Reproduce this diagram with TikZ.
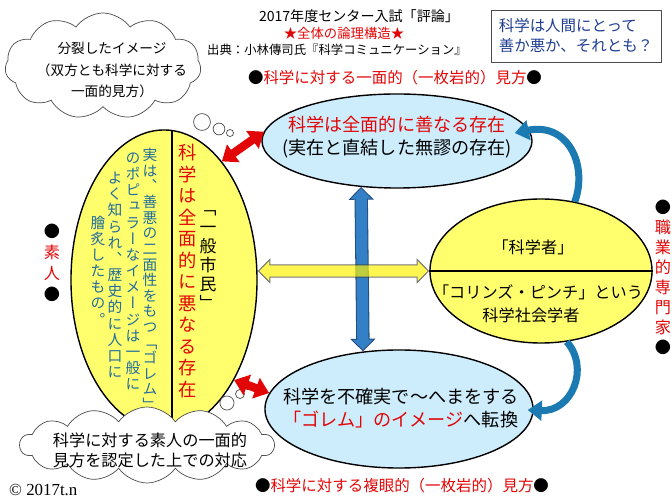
\documentclass[tikz,border=0pt]{standalone}
\usepackage{fontspec}
\setmainfont{Noto Sans CJK JP}
\newfontfamily\tatefont[RawFeature=+vert]{Noto Sans CJK JP}
\newfontfamily\copyfont{Liberation Serif}
\usepackage{tikz}
\usetikzlibrary{arrows.meta,shapes.geometric,shapes.symbols,calc}

\definecolor{akared}{RGB}{226,6,6}
\definecolor{eggyellow}{RGB}{255,255,110}
\definecolor{pondblue}{RGB}{205,237,252}
\definecolor{inkblue}{RGB}{32,108,156}
\definecolor{qblue}{RGB}{32,62,145}
\definecolor{bluebody}{RGB}{52,128,198}
\definecolor{blueedge}{RGB}{36,78,128}
\definecolor{swooshblue}{RGB}{28,122,178}

% one character per line, top to bottom
\newcommand\tate[1]{\vbox{\tateloop#1\relax}}
\def\tateloop#1{\ifx\relax#1\else\hbox to 1em{\hss\vrule height .88em depth .12em width 0pt\relax#1\hss}\expandafter\tateloop\fi}

\begin{document}
\begin{tikzpicture}[x=0.025cm, y=-0.025cm, thick,
  egg/.style={ellipse, draw=black, line width=1pt, fill=eggyellow, inner sep=0pt},
  pond/.style={ellipse, draw=black, line width=1pt, fill=pondblue, inner sep=0pt},
  puff/.style={cloud, cloud puffs=#1, cloud puff arc=110, cloud ignores aspect, draw=black!70, line width=0.5pt, fill=white, inner sep=0pt},
  bubble/.style={draw=black!70, line width=0.5pt, fill=white},
  tatecol/.style={inner sep=0pt, text=inkblue, font=\tatefont\fontsize{10.5}{11.5}\selectfont},
  redlink/.style={draw=akared, line width=6pt, {Triangle[length=10pt,width=15pt]}-{Triangle[length=10pt,width=15pt]}},
  barrim/.style={draw=#1, line width=9.5pt, {Triangle[length=9pt,width=17.5pt]}-{Triangle[length=9pt,width=17.5pt]}},
  barcore/.style={draw=#1, line width=8pt, shorten <=1.1pt, shorten >=1.1pt, {Triangle[length=7.2pt,width=14pt]}-{Triangle[length=7.2pt,width=14pt]}},
  swoosh/.style={draw=swooshblue, line width=5pt, -{Triangle[length=10pt,width=14pt]}}]

  \useasboundingbox (0,0) rectangle (672,504);

  % heading
  \node[font=\fontsize{10}{12}\selectfont] (title) at (359,16) {2017年度センター入試「評論」};
  \node[text=akared, font=\fontsize{9.5}{11}\selectfont] (star) at (344,33) {★全体の論理構造★};
  \node[font=\fontsize{8.8}{10}\selectfont] (src) at (337,50) {出典：小林傳司氏『科学コミュニケーション』};
  \node[draw=black!70, line width=0.6pt, align=left, text=qblue, font=\fontsize{11}{14.2}\selectfont,
        minimum width=4.25cm, minimum height=1.3cm] (ask) at (576,36) {科学は人間にとって\\善か悪か、それとも？};

  % thought cloud, top left
  \node[puff=11, minimum width=4.9cm, minimum height=2.65cm] (cloudtop) at (103,66) {};
  \node[align=center, font=\fontsize{9.7}{15.6}\selectfont] (split) at (112,70) {分裂したイメージ\\（双方とも科学に対する\\一面的見方）};
  \draw[bubble] (202,122) circle[radius=6pt];
  \draw[bubble] (219,129) circle[radius=4.2pt];
  \draw[bubble] (230,133) circle[radius=2.5pt];

  % the public
  \node[egg, minimum width=4.65cm, minimum height=7.5cm] (le) at (164,280) {};
  \draw[line width=1pt] (le.87) -- (le.273);
  \node[tatecol, font=\tatefont\fontsize{10.5}{11.1}\selectfont] (col1) at (150,280) {\tate{実は、善悪の二面性をもつ「ゴレム」}};
  \node[tatecol] (col2) at (133,271) {\tate{のポピュラーなイメージは一般に}};
  \node[tatecol] (col3) at (115,275) {\tate{よく知られ、歴史的に人口に}};
  \node[tatecol] (col4) at (98,271) {\tate{膾炙したもの。}};
  \node[tatecol, text=akared, font=\tatefont\fontsize{13}{15.3}\selectfont] (bad) at (188,271) {\tate{科学は全面的に悪なる存在}};
  \node[tatecol, text=black, font=\tatefont\fontsize{12}{13.5}\selectfont] (public) at (208,256) {\tate{「一般市民」}};

  % the two views
  \node[pond, minimum width=6.75cm, minimum height=2.35cm] (te) at (397,141) {};
  \node[align=center, font=\fontsize{12.9}{16.4}\selectfont] (good) at (397,137) {\textcolor{akared}{科学は全面的に善なる存在}\\(実在と直結した無謬の存在)};
  \node[pond, minimum width=6.7cm, minimum height=2.95cm] (be) at (399,409) {};
  \node[align=left, font=\fontsize{12.9}{16.4}\selectfont] (golem) at (401,408) {科学を不確実で～へまをする\\\textcolor{akared}{「ゴレム」のイメージ}へ転換};

  % the experts
  \node[egg, minimum width=5.55cm, minimum height=3.6cm] (re) at (541,271) {};
  \draw[line width=1pt] (re.west) -- (re.east);
  \node[font=\fontsize{11.5}{13}\selectfont] (sci) at (533,247) {「科学者」};
  \node[font=\fontsize{11.5}{13}\selectfont] (cp) at (538,292) {「コリンズ・ピンチ」という};
  \node[font=\fontsize{11.5}{13}\selectfont] (soc) at (531,315) {科学社会学者};

  % thought cloud, bottom left
  \node[puff=14, minimum width=6.35cm, minimum height=1.9cm] (cloudbot) at (147,445) {};
  \node[align=center, font=\fontsize{11.5}{14.2}\selectfont] (accept) at (150,450) {科学に対する素人の一面的\\見方を認定した上での対応};
  \draw[bubble] (227,403) circle[radius=5pt];
  \draw[bubble] (240,394) circle[radius=3.2pt];
  \draw[bubble] (248,387) circle[radius=2pt];

  % block arrows
  \draw[barrim=blueedge] (te.232) -- (be.122);
  \draw[barcore=bluebody] (te.232) -- (be.122);
  \begin{scope}[transparency group, opacity=0.68]
    \draw[barrim=black!80] (le.east |- re.west) -- (re.west);
    \draw[barcore=yellow] (le.east |- re.west) -- (re.west);
  \end{scope}
  \draw[redlink] (le.64) -- (te.176);
  \draw[redlink] (le.305) -- (be.173);

  \coordinate (tip1) at ($(te.east)+(-18,-8)$);
  \coordinate (tip2) at ($(be.east)+(-6,1)$);
  \draw[swoosh] (re.64) .. controls (588,165) and (568,122) .. (tip1);
  \draw[swoosh] (re.290) .. controls (590,368) and (572,412) .. (tip2);

  % captions
  \node[text=akared, font=\fontsize{11}{13}\selectfont] (mono) at (395,78) {{\color{black}●}科学に対する一面的（一枚岩的）見方{\color{black}●}};
  \node[text=akared, font=\fontsize{11}{13}\selectfont] (multi) at (402,486) {{\color{black}●}科学に対する複眼的（一枚岩的）見方{\color{black}●}};
  \node[tatecol, text=akared, font=\tatefont\fontsize{11.5}{14.9}\selectfont] (lay) at (52,263) {\tate{{\color{black}●}素人{\color{black}●}}};
  \node[tatecol, text=akared, font=\tatefont\fontsize{11.5}{14.2}\selectfont] (pro) at (663,277) {\tate{{\color{black}●}職業的専門家{\color{black}●}}};
  \node[anchor=west, font=\copyfont\fontsize{12}{14}\selectfont] (copy) at (4,490) {© 2017t.n};

\end{tikzpicture}
\end{document}
